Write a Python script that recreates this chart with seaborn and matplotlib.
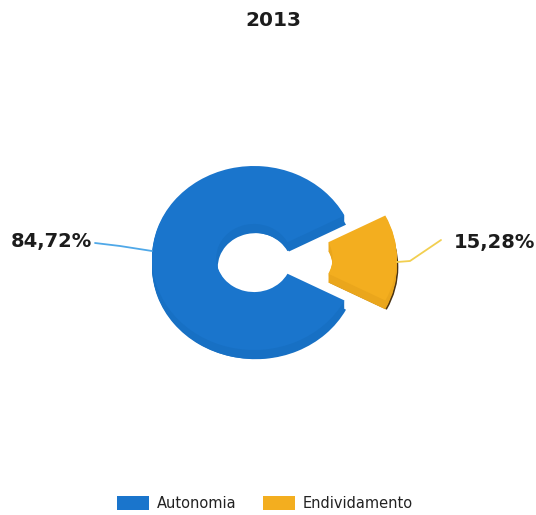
import matplotlib
matplotlib.use('Agg')
import matplotlib.pyplot as plt
import seaborn as sns

title = '2013'
categories = ['Autonomia', 'Endividamento']
values = [84.72, 15.28]
value_labels = ['84,72%', '15,28%']

sns.set_theme(style='white')
plt.rcParams['font.family'] = ['DejaVu Sans']

top_colors = sns.color_palette(['#1A75CC', '#F3AE1F'])
side_colors = sns.color_palette(['#1770C4', '#EAA61C'])
edge_colors = sns.color_palette(['#1770C4', '#4A3312'])

W, H = 536, 515
CX, CY = 254, 258   # pie centre in pixels
SX, SY = 102, 92    # pixels per unit, squashed to look tilted


def to_data(px, py):
    return (px - CX) / SX, (CY - py) / SY


fig = plt.figure(figsize=(W / 100, H / 100), dpi=100)
ax = fig.add_axes([0, 0, 1, 1])

start = 180 - values[0] * 3.6 / 2
explode = [0, 0.40]
ring = dict(width=0.63, linewidth=0)

# dark sliver on the yellow piece, then the side of the ring, then the top face
ax.pie(values, startangle=start, explode=explode, center=(0.015, -0.1),
       colors=edge_colors, wedgeprops=ring)
for step in range(1, 9):
    ax.pie(values, startangle=start, explode=explode, center=(0, -step * 0.012),
           colors=side_colors, wedgeprops=ring)
wedges, _ = ax.pie(values, startangle=start, explode=explode,
                   colors=top_colors, wedgeprops=ring)

ax.set_aspect('auto')
ax.set_xlim(to_data(0, 0)[0], to_data(W, 0)[0])
ax.set_ylim(to_data(0, H)[1], to_data(0, 0)[1])

# leader lines and value labels
ax.plot(*zip(to_data(95, 243), to_data(120, 246), to_data(152, 251)),
        color='#4FA8E8', lw=1.3)
ax.plot(*zip(to_data(397, 262), to_data(410, 261), to_data(441, 240)),
        color='#F2CF50', lw=1.3)
ax.text(*to_data(51, 242), value_labels[0], ha='center', va='center',
        fontsize=14, fontweight='bold', color='#1C1C1C')
ax.text(*to_data(494, 243), value_labels[1], ha='center', va='center',
        fontsize=14, fontweight='bold', color='#1C1C1C')

ax.text(*to_data(273, 21), title, ha='center', va='center',
        fontsize=14.5, fontweight='bold', color='#1C1C1C')

ax.legend(wedges, categories, ncol=2, frameon=False, loc='center',
          bbox_to_anchor=(265 / W, 1 - 503 / H), fontsize=10.5,
          handlelength=2.2, handleheight=1.1, columnspacing=1.8,
          handletextpad=0.55, labelcolor='#222222')

plt.savefig('out.png', dpi=100)
